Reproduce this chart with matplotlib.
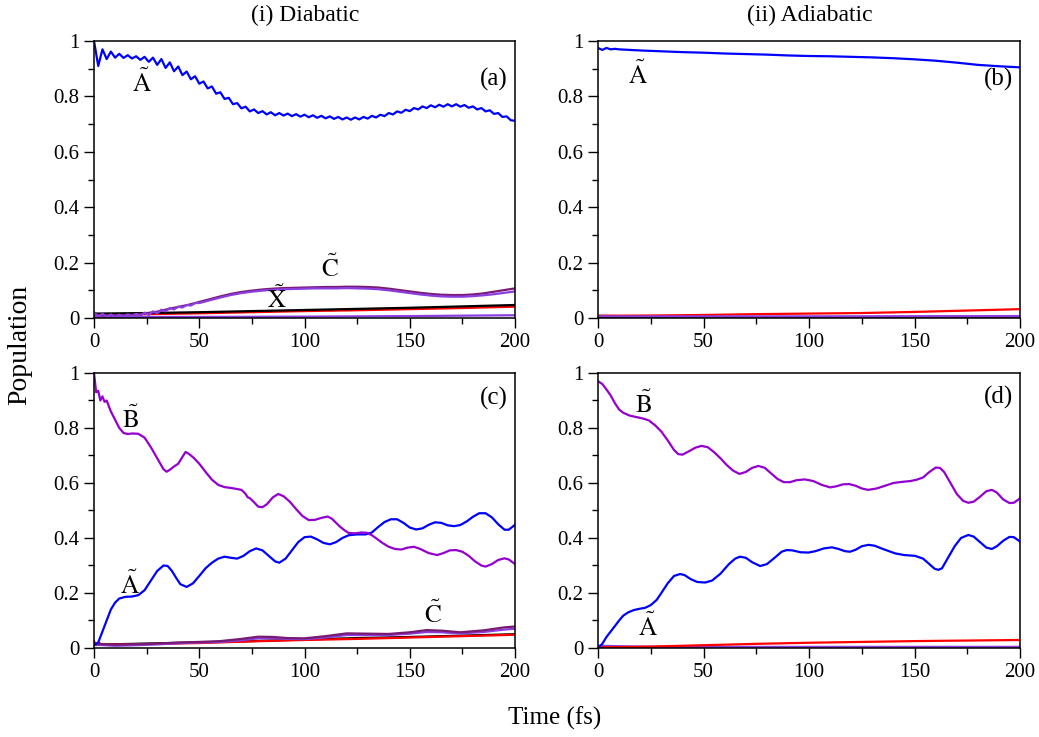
import matplotlib
matplotlib.use("Agg")
import matplotlib.pyplot as plt
import numpy as np
from matplotlib.ticker import MultipleLocator, FixedLocator

plt.rcParams['font.family'] = 'serif'
plt.rcParams['font.serif'] = ['Liberation Serif', 'DejaVu Serif']
plt.rcParams['mathtext.fontset'] = 'stix'

BLUE = "#0000ff"
VIOLET = "#9400d0"
C_DARK = "#781a70"
C_LIGHT = "#8a3ee0"
RED = "#ff0000"
BLACK = "#000000"

# ---- panel (a): diabatic, start on A ----
a_A_t = list(range(0, 201, 2))
a_A_v = [1.0, 0.91, 0.97, 0.935, 0.962, 0.94, 0.954, 0.939, 0.949, 0.937,
         0.945, 0.932, 0.943, 0.925, 0.940, 0.914, 0.935, 0.903, 0.923, 0.891,
         0.908, 0.877, 0.890, 0.862, 0.873, 0.846, 0.854, 0.829, 0.836, 0.810,
         0.815, 0.791, 0.795, 0.772, 0.776, 0.757, 0.763, 0.746, 0.753, 0.740,
         0.747, 0.735, 0.743, 0.732, 0.740, 0.731, 0.738, 0.729, 0.736, 0.727,
         0.734, 0.725, 0.732, 0.723, 0.730, 0.721, 0.728, 0.719, 0.726, 0.717,
         0.724, 0.716, 0.724, 0.717, 0.726, 0.720, 0.730, 0.724, 0.734, 0.729,
         0.740, 0.735, 0.746, 0.741, 0.752, 0.747, 0.758, 0.753, 0.764, 0.758,
         0.768, 0.761, 0.770, 0.763, 0.772, 0.764, 0.772, 0.763, 0.769, 0.759,
         0.764, 0.753, 0.758, 0.746, 0.750, 0.737, 0.740, 0.726, 0.728, 0.714,
         0.712]
a_C1 = [(0, 0.012), (5, 0.010), (10, 0.010), (15, 0.011), (20, 0.013), (25, 0.017),
        (30, 0.023), (35, 0.032), (40, 0.040), (45, 0.048), (50, 0.058), (55, 0.068),
        (60, 0.078), (65, 0.087), (70, 0.094), (75, 0.099), (80, 0.103), (85, 0.106),
        (90, 0.108), (95, 0.109), (100, 0.110), (105, 0.111), (110, 0.112), (115, 0.112),
        (120, 0.113), (125, 0.113), (130, 0.112), (135, 0.110), (140, 0.106), (145, 0.101),
        (150, 0.096), (155, 0.091), (160, 0.087), (165, 0.084), (170, 0.083), (175, 0.083),
        (180, 0.085), (185, 0.089), (190, 0.095), (195, 0.101), (200, 0.107)]
a_C2 = [(0, 0.020), (2, 0.005), (4, 0.015), (6, 0.004), (8, 0.013), (10, 0.004),
        (12, 0.012), (14, 0.005), (16, 0.013), (18, 0.006), (20, 0.015), (22, 0.008),
        (24, 0.019), (26, 0.011), (28, 0.024), (30, 0.017), (32, 0.030), (34, 0.024),
        (36, 0.036), (38, 0.031), (40, 0.041), (42, 0.038), (44, 0.047), (46, 0.045),
        (48, 0.054), (50, 0.054), (55, 0.064), (60, 0.074), (65, 0.083), (70, 0.090),
        (75, 0.095), (80, 0.099), (85, 0.102), (90, 0.104), (95, 0.105), (100, 0.106),
        (105, 0.107), (110, 0.107), (115, 0.107), (120, 0.108), (125, 0.107), (130, 0.106),
        (135, 0.104), (140, 0.100), (145, 0.095), (150, 0.090), (155, 0.085), (160, 0.081),
        (165, 0.078), (170, 0.077), (175, 0.077), (180, 0.079), (185, 0.082), (190, 0.086),
        (195, 0.091), (200, 0.096)]
a_X = [(0, 0.016), (25, 0.018), (50, 0.021), (75, 0.025), (100, 0.029), (125, 0.033),
       (150, 0.037), (175, 0.042), (200, 0.047)]
a_red = [(0, 0.020), (2, 0.010), (25, 0.014), (50, 0.017), (75, 0.021), (100, 0.025),
         (125, 0.028), (150, 0.032), (175, 0.036), (200, 0.041)]
a_low = [(0, 0.004), (50, 0.004), (100, 0.005), (150, 0.007), (200, 0.010)]

# ---- panel (b): adiabatic, start on A ----
b_A = [(0, 0.975), (2, 0.968), (4, 0.975), (6, 0.970), (8, 0.972), (10, 0.970),
       (15, 0.968), (20, 0.966), (30, 0.963), (40, 0.960), (50, 0.958), (60, 0.955),
       (70, 0.953), (80, 0.951), (90, 0.948), (100, 0.946), (110, 0.945), (120, 0.943),
       (130, 0.941), (140, 0.938), (150, 0.934), (160, 0.929), (170, 0.922), (180, 0.914),
       (190, 0.909), (200, 0.905)]
b_red = [(0, 0.008), (25, 0.009), (50, 0.011), (75, 0.014), (100, 0.016), (125, 0.018),
         (150, 0.022), (175, 0.027), (200, 0.032)]
b_vio = [(0, 0.006), (100, 0.006), (200, 0.007)]
b_dark = [(0, 0.008), (30, 0.005), (60, 0.003), (200, 0.002)]
b_X = [(0, 0.001), (200, 0.001)]

# ---- panel (c): diabatic, start on B ----
c_B = [(0, 1.0), (1, 0.93), (2, 0.935), (3, 0.90), (4, 0.915), (5, 0.895), (6, 0.90),
       (8, 0.86), (10, 0.83), (12, 0.80), (14, 0.782), (16, 0.778), (18, 0.78), (21, 0.779),
       (24, 0.765), (27, 0.73), (30, 0.69), (33, 0.65), (34.5, 0.641), (36, 0.648), (38, 0.66),
       (40, 0.67), (42, 0.695), (43.5, 0.713), (45, 0.706), (47, 0.694), (50, 0.67), (53, 0.64),
       (56, 0.612), (59, 0.593), (62, 0.585), (65, 0.582), (68, 0.578), (70, 0.575), (71, 0.568),
       (72, 0.56), (73, 0.548), (74, 0.545), (76, 0.53), (78, 0.514), (80, 0.512), (82, 0.522),
       (85, 0.548), (87.5, 0.56), (90, 0.552), (93, 0.532), (96, 0.505), (99, 0.48), (102, 0.465),
       (105, 0.466), (108, 0.473), (111, 0.478), (113, 0.47), (115, 0.455), (117, 0.44),
       (119, 0.428), (121, 0.418), (124, 0.417), (127, 0.42), (129.5, 0.419), (132, 0.41),
       (134, 0.399), (137, 0.382), (140, 0.368), (143, 0.36), (146, 0.358), (149, 0.365),
       (152, 0.368), (155, 0.36), (159, 0.345), (163, 0.338), (166, 0.345), (169, 0.355),
       (172, 0.356), (175, 0.35), (178, 0.335), (181, 0.315), (184, 0.30), (186, 0.296),
       (189, 0.305), (192, 0.32), (195, 0.326), (197, 0.322), (200, 0.305)]
c_A = [(0, 0.01), (2, 0.02), (4, 0.06), (6, 0.10), (8, 0.14), (10, 0.165), (12, 0.18),
       (15, 0.186), (18, 0.187), (21, 0.192), (24, 0.21), (27, 0.245), (30, 0.28), (33, 0.30),
       (35, 0.298), (37, 0.28), (39, 0.255), (41, 0.232), (44, 0.222), (47, 0.235), (50, 0.262),
       (53, 0.29), (56, 0.31), (59, 0.325), (62, 0.332), (65, 0.328), (68, 0.325), (71, 0.335),
       (74, 0.352), (77, 0.362), (80, 0.355), (83, 0.335), (86, 0.315), (88, 0.31), (91, 0.325),
       (94, 0.355), (97, 0.385), (100, 0.403), (103, 0.405), (106, 0.395), (109, 0.382),
       (112, 0.377), (115, 0.385), (118, 0.40), (121, 0.41), (125, 0.413), (129, 0.413),
       (132, 0.42), (135, 0.44), (138, 0.458), (141, 0.468), (144, 0.468), (147, 0.455),
       (150, 0.438), (153, 0.431), (156, 0.435), (159, 0.448), (162, 0.457), (165, 0.455),
       (168, 0.446), (171, 0.443), (174, 0.447), (177, 0.46), (180, 0.477), (183, 0.49),
       (186, 0.49), (189, 0.475), (192, 0.45), (195, 0.43), (197, 0.43), (200, 0.448)]
c_C1 = [(0, 0.015), (10, 0.012), (20, 0.014), (30, 0.016), (40, 0.020), (50, 0.022),
        (60, 0.025), (70, 0.033), (78, 0.041), (85, 0.040), (92, 0.036), (100, 0.035),
        (110, 0.043), (120, 0.053), (130, 0.052), (140, 0.051), (150, 0.057), (158, 0.065),
        (165, 0.063), (174, 0.057), (185, 0.064), (195, 0.075), (200, 0.078)]
c_C2 = [(0, 0.012), (10, 0.008), (20, 0.010), (30, 0.013), (40, 0.017), (50, 0.020),
        (60, 0.022), (70, 0.028), (78, 0.035), (85, 0.035), (92, 0.033), (100, 0.032),
        (110, 0.038), (120, 0.047), (130, 0.047), (140, 0.047), (150, 0.052), (158, 0.058),
        (165, 0.057), (174, 0.053), (185, 0.058), (195, 0.067), (200, 0.070)]
c_X = [(0, 0.012), (25, 0.016), (50, 0.020), (75, 0.025), (100, 0.031), (125, 0.036),
       (150, 0.040), (175, 0.045), (200, 0.050)]
c_red = [(0, 0.025), (1, 0.010), (2, 0.020), (4, 0.012), (25, 0.014), (50, 0.018),
         (75, 0.024), (100, 0.029), (125, 0.033), (150, 0.038), (175, 0.043), (200, 0.048)]

# ---- panel (d): adiabatic, start on B ----
d_B = [(0, 0.97), (2, 0.96), (4, 0.94), (6, 0.918), (8, 0.89), (10, 0.867), (12, 0.855),
       (15, 0.845), (18, 0.84), (21, 0.835), (24, 0.828), (27, 0.81), (30, 0.787), (33, 0.755),
       (36, 0.72), (38, 0.705), (40, 0.703), (43, 0.715), (46, 0.728), (49, 0.735), (52, 0.73),
       (55, 0.712), (58, 0.69), (61, 0.665), (64, 0.645), (67, 0.633), (70, 0.64), (73, 0.655),
       (76, 0.662), (79, 0.655), (82, 0.635), (85, 0.615), (88, 0.603), (91, 0.603), (94, 0.61),
       (98, 0.613), (102, 0.607), (106, 0.593), (110, 0.584), (113, 0.588), (116, 0.595),
       (119, 0.596), (122, 0.59), (125, 0.58), (128, 0.575), (132, 0.58), (136, 0.59),
       (140, 0.60), (144, 0.604), (148, 0.607), (151, 0.612), (154, 0.62), (157, 0.64),
       (160, 0.656), (162, 0.655), (164, 0.64), (167, 0.60), (170, 0.56), (173, 0.535),
       (175.5, 0.528), (178, 0.532), (181, 0.55), (184, 0.57), (186.6, 0.575), (189, 0.565),
       (192, 0.54), (195, 0.527), (197, 0.528), (200, 0.544)]
d_A = [(0, 0.0), (2, 0.015), (4, 0.04), (6, 0.06), (8, 0.08), (10, 0.10), (12, 0.118),
       (14.4, 0.13), (17, 0.138), (20, 0.143), (22.3, 0.146), (25, 0.156), (27.8, 0.175),
       (30, 0.20), (33, 0.235), (36, 0.262), (38.9, 0.269), (41, 0.265), (44, 0.25), (47, 0.24),
       (50.7, 0.238), (54, 0.245), (58, 0.27), (62, 0.305), (65, 0.325), (67.3, 0.332),
       (70, 0.328), (73, 0.312), (76.8, 0.298), (80, 0.305), (84, 0.33), (87, 0.35),
       (89.4, 0.356), (92, 0.355), (96, 0.348), (99.7, 0.347), (103, 0.352), (107, 0.362),
       (110.8, 0.366), (114, 0.36), (117, 0.352), (119.4, 0.35), (122, 0.357), (125, 0.37),
       (128.1, 0.375), (131, 0.372), (135, 0.36), (140.8, 0.344), (145, 0.338), (150.2, 0.335),
       (154, 0.325), (157, 0.305), (159.5, 0.288), (161.3, 0.284), (163, 0.29), (166, 0.33),
       (169, 0.37), (172, 0.40), (175.5, 0.411), (178, 0.405), (181, 0.385), (184, 0.365),
       (186.6, 0.36), (189, 0.37), (192, 0.39), (195, 0.404), (197, 0.403), (200, 0.387)]
d_red = [(0, 0.002), (25, 0.005), (50, 0.010), (75, 0.015), (100, 0.019), (125, 0.022),
         (150, 0.025), (175, 0.027), (200, 0.029)]
d_vio = [(0, 0.008), (20, 0.005), (50, 0.004), (200, 0.004)]
d_dark = [(0, 0.003), (200, 0.001)]

x_ticks = [0, 50, 100, 150, 200]
y_ticks = [0, 0.2, 0.4, 0.6, 0.8, 1.0]
y_ticklabels = ["0", "0.2", "0.4", "0.6", "0.8", "1"]


def draw(ax, pts, color):
    arr = np.array(pts)
    ax.plot(arr[:, 0], arr[:, 1], color=color, lw=1.6)


def state(ax, x, y, letter):
    # y is the baseline of the letter
    ax.text(x, y, r"$\tilde{\mathrm{%s}}$" % letter, fontsize=18,
            ha='center', va='baseline')


def style(ax, tag, ypos):
    ax.set_xlim(0, 200)
    ax.set_ylim(0, 1)
    ax.xaxis.set_major_locator(FixedLocator(x_ticks))
    ax.xaxis.set_minor_locator(MultipleLocator(25))
    ax.set_yticks(y_ticks)
    ax.set_yticklabels(y_ticklabels)
    ax.yaxis.set_minor_locator(MultipleLocator(0.1))
    ax.tick_params(which='both', direction='out', top=False, right=False,
                   labelsize=15, width=1.0)
    ax.tick_params(which='major', length=7)
    ax.tick_params(which='minor', length=4)
    for s in ax.spines.values():
        s.set_linewidth(1.1)
    ax.text(190, ypos, "(" + tag + ")", fontsize=18, ha='center', va='center')


fig = plt.figure(figsize=(10.39, 7.37), dpi=100)
ax_a = fig.add_axes([0.0905, 0.5685, 0.4052, 0.3758])
ax_b = fig.add_axes([0.5756, 0.5685, 0.4062, 0.3758])
ax_c = fig.add_axes([0.0905, 0.1208, 0.4052, 0.3731])
ax_d = fig.add_axes([0.5756, 0.1208, 0.4062, 0.3731])

# (a)
draw(ax_a, a_low, C_LIGHT)
draw(ax_a, a_red, RED)
draw(ax_a, a_X, BLACK)
draw(ax_a, a_C1, C_DARK)
draw(ax_a, a_C2, C_LIGHT)
ax_a.plot(a_A_t, a_A_v, color=BLUE, lw=1.6)
style(ax_a, "a", 0.86)
state(ax_a, 22.6, 0.817, "A")
state(ax_a, 112, 0.149, "C")
state(ax_a, 86.8, 0.035, "X")

# (b)
draw(ax_b, b_X, BLACK)
draw(ax_b, b_dark, C_DARK)
draw(ax_b, b_red, RED)
draw(ax_b, b_vio, C_LIGHT)
draw(ax_b, b_A, BLUE)
style(ax_b, "b", 0.86)
state(ax_b, 19, 0.845, "A")

# (c)
draw(ax_c, c_X, BLACK)
draw(ax_c, c_red, RED)
draw(ax_c, c_C2, C_LIGHT)
draw(ax_c, c_C1, C_DARK)
draw(ax_c, c_A, BLUE)
draw(ax_c, c_B, VIOLET)
style(ax_c, "c", 0.909)
state(ax_c, 17.1, 0.799, "B")
state(ax_c, 17.1, 0.196, "A")
state(ax_c, 161, 0.092, "C")

# (d)
draw(ax_d, d_dark, C_DARK)
draw(ax_d, d_vio, C_LIGHT)
draw(ax_d, d_red, RED)
draw(ax_d, d_A, BLUE)
draw(ax_d, d_B, VIOLET)
style(ax_d, "d", 0.912)
state(ax_d, 21.5, 0.853, "B")
state(ax_d, 23.5, 0.044, "A")

fig.text(305 / 1039, 1 - 15 / 737, "(i) Diabatic", fontsize=17, ha='center', va='center')
fig.text(810 / 1039, 1 - 15 / 737, "(ii) Adiabatic", fontsize=17, ha='center', va='center')
fig.text(20 / 1039, 1 - 345 / 737, "Population", fontsize=20, rotation=90,
         ha='center', va='center')
fig.text(555 / 1039, 1 - 718 / 737, "Time (fs)", fontsize=18, ha='center', va='center')

fig.savefig("out.png", dpi=100)
